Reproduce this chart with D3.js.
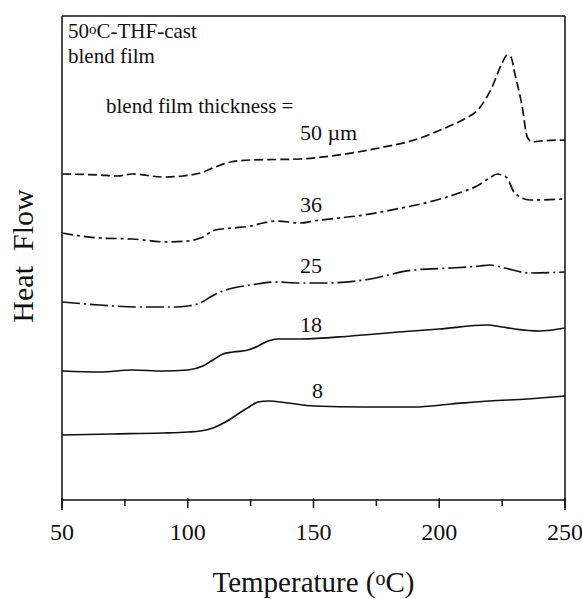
<!DOCTYPE html>
<html>
<head>
<meta charset="utf-8">
<title>Heat Flow</title>
<script src="https://d3js.org/d3.v7.min.js"></script>
<style>
  body { margin: 0; background: #fff; }
  text { font-family: "Liberation Serif", "DejaVu Serif", serif; fill: #111; }
  .curve { fill: none; stroke: #111; stroke-width: 1.7; }
  .frame { stroke: #111; stroke-width: 1.5; fill: none; }
</style>
</head>
<body>
<div id="chart"></div>
<script>
// temperatures (oC) and heat flow (arbitrary units)
var temp8  = [50, 70, 90, 100, 105, 110, 115, 120, 125, 128, 132, 140, 150, 170, 190, 205, 220, 235, 250];
var flow8  = [65, 66, 67, 68, 69, 72, 78, 86, 94, 98, 99, 97, 94, 93, 93, 96, 99, 101, 104];

var temp18 = [50, 65, 78, 90, 100, 106, 110, 114, 118, 124, 128, 132, 136, 145, 165, 184, 200, 219, 225, 230, 240, 250];
var flow18 = [129, 128, 130, 129, 130, 134, 140, 146, 148, 150, 154, 159, 161, 161, 164, 168, 171, 175, 173, 171, 169, 172];

var temp25 = [50, 65, 80, 95, 100, 105, 109, 114, 118, 125, 134, 145, 155, 170, 190, 205, 216, 220, 226, 236, 250];
var flow25 = [198, 195, 193, 193, 194, 197, 203, 209, 212, 215, 218, 217, 217, 220, 230, 232, 234, 235, 232, 227, 228];

var temp36 = [50, 65, 78, 92, 100, 105, 111, 118, 125, 130, 135, 145, 150, 170, 185, 196, 209, 215, 220, 223, 225, 227, 230, 236, 250];
var flow36 = [267, 262, 261, 258, 259, 262, 270, 272, 274, 277, 279, 277, 279, 285, 292, 298, 308, 314, 322, 326, 325, 322, 307, 300, 301];

var temp50 = [50, 65, 72, 78, 90, 98, 105, 111, 117, 125, 145, 157, 176, 190, 205, 210, 216, 221, 225, 227, 228.5, 230, 233, 235, 237, 240, 250];
var flow50 = [326, 325, 324, 326, 323, 324, 327, 333, 338, 340, 341, 344, 352, 360, 375, 381, 392, 413, 437, 445, 443, 427, 393, 363, 358, 359, 360];

var thickness = ["8", "18", "25", "36", "50 \u00b5m"];
var xTicks = [50, 100, 150, 200, 250];
var xMinor = [75, 125, 175, 225];

var width = 582, height = 599;
var mLeft = 62, mRight = 565, mTop = 16, mBottom = 500;

var svg = d3.select("#chart").append("svg")
  .attr("width", width)
  .attr("height", height);

var x = d3.scaleLinear().domain([50, 250]).range([mLeft, mRight]);
var y = d3.scaleLinear().domain([0, mBottom - mTop]).range([mBottom, mTop]);

// curves: thickness label, data, dash pattern, label position (data coords)
var series = [
  {name: thickness[0], t: temp8,  f: flow8,  dash: null,        lx: 149.4, ly: 102},
  {name: thickness[1], t: temp18, f: flow18, dash: null,        lx: 144.6, ly: 168},
  {name: thickness[2], t: temp25, f: flow25, dash: "18,4,2,4",  lx: 144.6, ly: 227},
  {name: thickness[3], t: temp36, f: flow36, dash: "11,4,3,4",  lx: 144.6, ly: 288},
  {name: thickness[4], t: temp50, f: flow50, dash: "9,4",       lx: 144.6, ly: 360}
];

var line = d3.line()
  .x(d => x(d[0]))
  .y(d => y(d[1]))
  .curve(d3.curveMonotoneX);

series.forEach(function(s){
  var pts = s.t.map((t, i) => [t, s.f[i]]);
  svg.append("path")
    .attr("class", "curve")
    .attr("d", line(pts))
    .attr("stroke-dasharray", s.dash);
  svg.append("text")
    .attr("x", x(s.lx))
    .attr("y", y(s.ly))
    .style("font-size", "22px")
    .text(s.name);
});

// frame
svg.append("line").attr("class", "frame").attr("x1", mLeft).attr("x2", mRight).attr("y1", mTop).attr("y2", mTop);
svg.append("line").attr("class", "frame").attr("x1", mLeft).attr("x2", mLeft).attr("y1", mTop).attr("y2", mBottom + 10);
svg.append("line").attr("class", "frame").attr("x1", mRight).attr("x2", mRight).attr("y1", mTop).attr("y2", mBottom + 10);

// x axis
var xAxis = svg.append("g").attr("transform", "translate(0," + mBottom + ")");
xAxis.append("line").attr("class", "frame").attr("x1", mLeft).attr("x2", mRight);
xAxis.selectAll(".major").data(xTicks).join("line")
  .attr("class", "frame major")
  .attr("x1", d => x(d)).attr("x2", d => x(d))
  .attr("y1", -2).attr("y2", 8);
xAxis.selectAll(".minor").data(xMinor).join("line")
  .attr("class", "frame minor")
  .attr("x1", d => x(d)).attr("x2", d => x(d))
  .attr("y1", -1).attr("y2", 6);
xAxis.selectAll(".lbl").data(xTicks).join("text")
  .attr("class", "lbl")
  .attr("x", d => x(d))
  .attr("y", 40)
  .attr("text-anchor", "middle")
  .style("font-size", "24px")
  .text(d => d);

// axis titles
var xt = svg.append("text")
  .attr("x", (mLeft + mRight) / 2)
  .attr("y", 592)
  .attr("text-anchor", "middle")
  .style("font-size", "29px");
xt.append("tspan").text("Temperature (");
xt.append("tspan").attr("dy", -7).style("font-size", "20px").text("o");
xt.append("tspan").attr("dy", 7).text("C)");

svg.append("text")
  .attr("transform", "translate(33,256) rotate(-90)")
  .attr("text-anchor", "middle")
  .style("font-size", "30px")
  .style("white-space", "pre")
  .text("Heat  Flow");

// annotation in the corner
var t1 = svg.append("text").attr("x", 68).attr("y", 38).style("font-size", "21px");
t1.append("tspan").text("50");
t1.append("tspan").attr("dy", -4).style("font-size", "15px").text("o");
t1.append("tspan").attr("dy", 4).text("C-THF-cast");
svg.append("text").attr("x", 68).attr("y", 63).style("font-size", "21px").text("blend film");
svg.append("text").attr("x", 106).attr("y", 113).style("font-size", "21px").text("blend film thickness =");
</script>
</body>
</html>
